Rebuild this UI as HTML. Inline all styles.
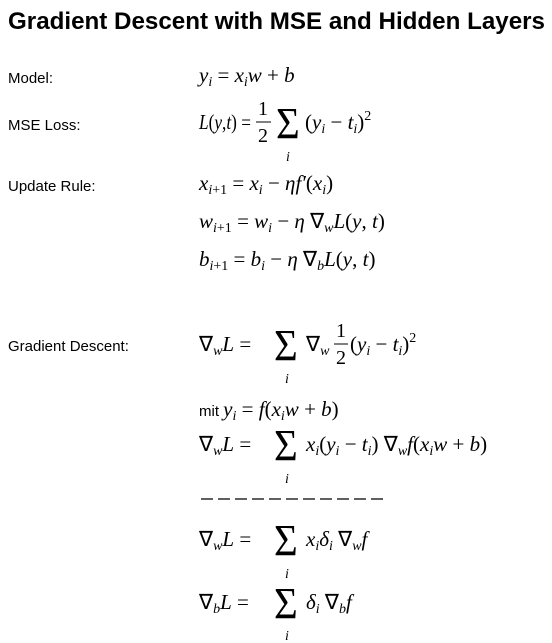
<!DOCTYPE html>
<html><head><meta charset="utf-8"><style>
body{margin:0;background:#fff;width:552px;height:643px;overflow:hidden}
svg{display:block}
.lb{font-family:"Liberation Sans",sans-serif;font-size:15px;fill:#000}
.m{font-family:"Liberation Serif",serif;font-size:21px;font-style:italic;fill:#000}
.r{font-style:normal}
.s{font-size:14px}
.i{font-family:"Liberation Serif",serif;font-size:14px;font-style:italic}
.fr{font-family:"Liberation Serif",serif;font-size:20px}
</style></head><body>
<svg width="552" height="643" viewBox="0 0 552 643">
<text x="8" y="29" font-family="Liberation Sans, sans-serif" font-weight="bold" font-size="24" textLength="537" lengthAdjust="spacingAndGlyphs">Gradient Descent with MSE and Hidden Layers</text>

<text class="lb" x="8" y="83">Model:</text>
<text class="m" x="199" y="82">y<tspan class="s" dy="4">i</tspan><tspan dy="-4" class="r"> = </tspan>x<tspan class="s" dy="4">i</tspan><tspan dy="-4">w</tspan><tspan class="r"> + </tspan>b</text>

<text class="lb" x="8" y="130">MSE Loss:</text>
<g>
<text class="m" x="199" y="129" textLength="52" lengthAdjust="spacingAndGlyphs">L<tspan class="r">(</tspan>y<tspan class="r">,</tspan>t<tspan class="r">) =</tspan></text>
<text class="fr" x="258" y="115">1</text>
<line x1="256" y1="122" x2="271" y2="122" stroke="#000" stroke-width="1"/>
<text class="fr" x="258" y="142">2</text>
<text x="0" y="0" font-family="Liberation Serif, serif" font-size="34" transform="translate(276,138) scale(1.2,1.3)">Σ</text>
<text class="i" x="286" y="161">i</text>
<text class="m" x="305" y="129"><tspan class="r">(</tspan>y<tspan class="s" dy="4">i</tspan><tspan dy="-4" class="r"> − </tspan>t<tspan class="s" dy="4">i</tspan><tspan dy="-4" class="r">)</tspan><tspan class="s r" dy="-9">2</tspan></text>
</g>

<text class="lb" x="8" y="191">Update Rule:</text>
<text class="m" x="199" y="190">x<tspan class="s" dy="4">i<tspan class="r">+1</tspan></tspan><tspan dy="-4" class="r"> = </tspan>x<tspan class="s" dy="4">i</tspan><tspan dy="-4" class="r"> − </tspan>η<tspan>f′</tspan><tspan class="r">(</tspan>x<tspan class="s" dy="4">i</tspan><tspan dy="-4" class="r">)</tspan></text>
<text class="m" x="199" y="228">w<tspan class="s" dy="4">i<tspan class="r">+1</tspan></tspan><tspan dy="-4" class="r"> = </tspan>w<tspan class="s" dy="4">i</tspan><tspan dy="-4" class="r"> − </tspan>η<tspan class="r"> ∇</tspan><tspan class="s" dy="4">w</tspan><tspan dy="-4">L</tspan><tspan class="r">(</tspan>y<tspan class="r">, </tspan>t<tspan class="r">)</tspan></text>
<text class="m" x="199" y="266">b<tspan class="s" dy="4">i<tspan class="r">+1</tspan></tspan><tspan dy="-4" class="r"> = </tspan>b<tspan class="s" dy="4">i</tspan><tspan dy="-4" class="r"> − </tspan>η<tspan class="r"> ∇</tspan><tspan class="s" dy="4">b</tspan><tspan dy="-4">L</tspan><tspan class="r">(</tspan>y<tspan class="r">, </tspan>t<tspan class="r">)</tspan></text>

<text class="lb" x="8" y="351">Gradient Descent:</text>
<g>
<text class="m" x="199" y="351"><tspan class="r">∇</tspan><tspan class="s" dy="4">w</tspan><tspan dy="-4">L</tspan><tspan class="r"> =</tspan></text>
<text x="0" y="0" font-family="Liberation Serif, serif" font-size="34" transform="translate(274,360) scale(1.2,1.3)">Σ</text>
<text class="i" x="285" y="383">i</text>
<text class="m" x="306" y="351"><tspan class="r">∇</tspan><tspan class="s" dy="4">w</tspan></text>
<text class="fr" x="336" y="337">1</text>
<line x1="334" y1="344" x2="348" y2="344" stroke="#000" stroke-width="1"/>
<text class="fr" x="336" y="364">2</text>
<text class="m" x="350" y="351"><tspan class="r">(</tspan>y<tspan class="s" dy="4">i</tspan><tspan dy="-4" class="r"> − </tspan>t<tspan class="s" dy="4">i</tspan><tspan dy="-4" class="r">)</tspan><tspan class="s r" dy="-9">2</tspan></text>
</g>

<text class="m" x="199" y="416"><tspan font-family="Liberation Sans, sans-serif" font-style="normal" font-size="15">mit </tspan>y<tspan class="s" dy="4">i</tspan><tspan dy="-4" class="r"> = </tspan>f<tspan class="r">(</tspan>x<tspan class="s" dy="4">i</tspan><tspan dy="-4">w</tspan><tspan class="r"> + </tspan>b<tspan class="r">)</tspan></text>

<g>
<text class="m" x="199" y="451"><tspan class="r">∇</tspan><tspan class="s" dy="4">w</tspan><tspan dy="-4">L</tspan><tspan class="r"> =</tspan></text>
<text x="0" y="0" font-family="Liberation Serif, serif" font-size="34" transform="translate(274,460) scale(1.2,1.3)">Σ</text>
<text class="i" x="285" y="483">i</text>
<text class="m" x="306" y="451">x<tspan class="s" dy="4">i</tspan><tspan dy="-4" class="r">(</tspan>y<tspan class="s" dy="4">i</tspan><tspan dy="-4" class="r"> − </tspan>t<tspan class="s" dy="4">i</tspan><tspan dy="-4" class="r">) ∇</tspan><tspan class="s" dy="4">w</tspan><tspan dy="-4">f</tspan><tspan class="r">(</tspan>x<tspan class="s" dy="4">i</tspan><tspan dy="-4">w</tspan><tspan class="r"> + </tspan>b<tspan class="r">)</tspan></text>
</g>

<line x1="201" y1="499" x2="385" y2="499" stroke="#000" stroke-width="1.3" stroke-dasharray="12,5"/>

<g>
<text class="m" x="199" y="546"><tspan class="r">∇</tspan><tspan class="s" dy="4">w</tspan><tspan dy="-4">L</tspan><tspan class="r"> =</tspan></text>
<text x="0" y="0" font-family="Liberation Serif, serif" font-size="34" transform="translate(274,555) scale(1.2,1.3)">Σ</text>
<text class="i" x="285" y="578">i</text>
<text class="m" x="306" y="546">x<tspan class="s" dy="4">i</tspan><tspan dy="-4">δ</tspan><tspan class="s" dy="4">i</tspan><tspan dy="-4" class="r"> ∇</tspan><tspan class="s" dy="4">w</tspan><tspan dy="-4">f</tspan></text>
</g>

<g>
<text class="m" x="199" y="609"><tspan class="r">∇</tspan><tspan class="s" dy="4">b</tspan><tspan dy="-4">L</tspan><tspan class="r"> =</tspan></text>
<text x="0" y="0" font-family="Liberation Serif, serif" font-size="34" transform="translate(274,618) scale(1.2,1.3)">Σ</text>
<text class="i" x="285" y="640">i</text>
<text class="m" x="306" y="609">δ<tspan class="s" dy="4">i</tspan><tspan dy="-4" class="r"> ∇</tspan><tspan class="s" dy="4">b</tspan><tspan dy="-4">f</tspan></text>
</g>
</svg>
</body></html>
